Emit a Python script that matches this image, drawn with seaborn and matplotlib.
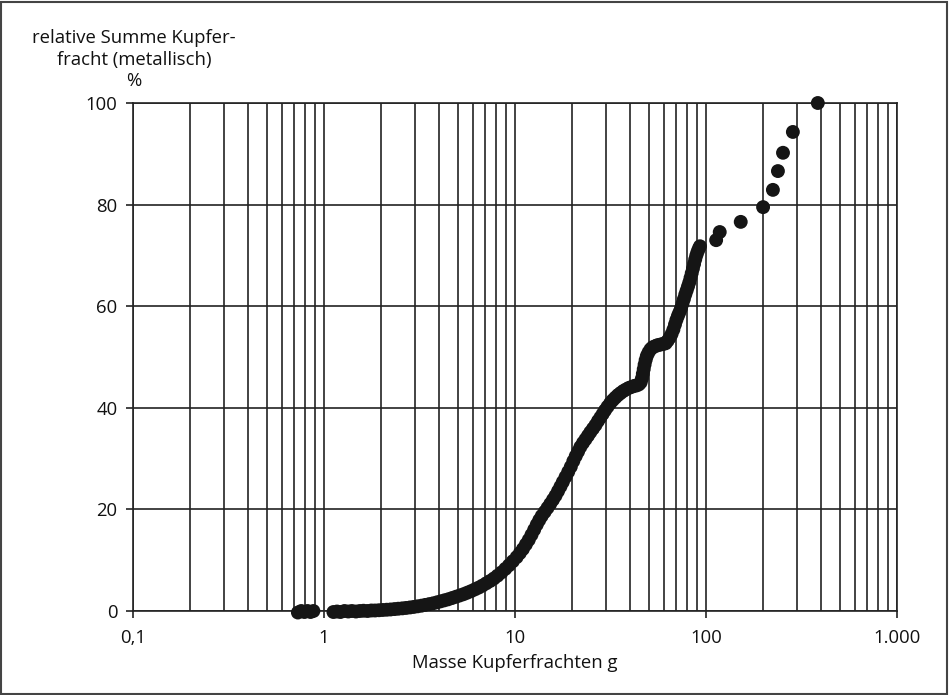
import matplotlib
matplotlib.use("Agg")
import matplotlib.pyplot as plt
import matplotlib.patches as mpatches
from matplotlib.ticker import FixedLocator, FixedFormatter, NullLocator
import numpy as np
import pandas as pd
import seaborn as sns

# Cumulative copper freight share vs. freight mass (g), sorted by mass
mass_g = [
    0.73, 0.76, 0.79, 0.82, 0.85, 0.88,
    1.12, 1.17, 1.22, 1.28, 1.34, 1.40, 1.47, 1.54, 1.61, 1.69, 1.77, 1.85,
    1.94, 2.03, 2.13, 2.23, 2.34, 2.45, 2.57, 2.69, 2.82, 2.95, 3.09, 3.24,
    3.39, 3.55, 3.72, 3.90, 4.08, 4.27, 4.47, 4.68, 4.90, 5.13, 5.37, 5.62,
    5.88, 6.16, 6.45, 6.75, 7.07, 7.40, 7.75, 8.10, 8.50, 8.90, 9.30, 9.75,
    10.2, 10.6, 11.0, 11.4, 11.8, 12.2, 12.6, 13.0, 13.4, 13.8, 14.3, 14.8,
    15.3, 15.8, 16.3, 16.8, 17.3, 17.8, 18.4, 19.0, 19.6, 20.2, 20.8, 21.4,
    22.0, 22.7, 23.4, 24.1, 24.8, 25.6, 26.4, 27.2, 28.0, 28.8, 29.6, 30.5,
    31.5, 32.5, 33.5, 34.6, 35.7, 36.9, 38.1, 39.4, 40.7, 42.0, 43.3, 44.5,
    45.5, 46.2, 46.7, 47.2, 47.7, 48.3, 49.0, 50.0, 51.2, 52.5, 54.0, 55.5,
    57.0, 58.5, 60.0, 61.5, 63.0, 64.5, 66.0, 67.5, 68.8, 70.0, 71.3, 72.6,
    74.0, 75.3, 76.6, 77.9, 79.2, 80.5, 81.8, 83.0, 84.2, 85.4, 86.6, 87.8,
    89.0, 90.3, 91.6, 93.0,
    113, 118, 152, 199, 224, 238, 253, 285, 385,
]
cum_share = [
    -0.3, 0.0, -0.2, 0.0, -0.2, 0.0,
    -0.2, -0.1, -0.2, 0.0, -0.1, 0.0, -0.1, 0.0, 0.05, 0.0, 0.1, 0.1,
    0.15, 0.2, 0.25, 0.3, 0.38, 0.45, 0.52, 0.60, 0.70, 0.80, 0.92, 1.05,
    1.20, 1.35, 1.50, 1.70, 1.90, 2.10, 2.30, 2.55, 2.80, 3.05, 3.30, 3.60,
    3.90, 4.25, 4.60, 5.00, 5.45, 5.90, 6.40, 6.95, 7.60, 8.30, 9.00, 9.80,
    10.6, 11.4, 12.2, 13.1, 14.0, 15.0, 16.0, 17.0, 17.9, 18.7, 19.5, 20.3,
    21.1, 21.9, 22.7, 23.6, 24.5, 25.4, 26.4, 27.4, 28.4, 29.5, 30.5, 31.4,
    32.3, 33.1, 33.8, 34.5, 35.2, 35.9, 36.6, 37.4, 38.1, 38.8, 39.5, 40.2,
    40.9, 41.5, 42.0, 42.5, 42.9, 43.3, 43.6, 43.9, 44.1, 44.3, 44.4, 44.6,
    45.0, 45.8, 46.7, 47.6, 48.5, 49.4, 50.2, 50.9, 51.5, 51.9, 52.1, 52.3,
    52.4, 52.5, 52.6, 52.7, 53.2, 53.8, 54.5, 55.4, 56.4, 57.3, 58.1, 58.8,
    59.6, 60.5, 61.4, 62.3, 63.1, 63.9, 64.7, 65.6, 66.5, 67.4, 68.3, 69.2,
    70.0, 70.7, 71.3, 71.8,
    73.0, 74.6, 76.6, 79.5, 82.9, 86.6, 90.2, 94.3, 100.0,
]

x_ticks = [0.1, 1, 10, 100, 1000]
x_tick_labels = ["0,1", "1", "10", "100", "1.000"]
y_ticks = [0, 20, 40, 60, 80, 100]

df = pd.DataFrame({"masse": mass_g, "anteil": cum_share})

sns.set_theme(style="white")
plt.rcParams["font.family"] = ["Open Sans", "DejaVu Sans"]

FS = 13.3
W, H = 949, 695
fig = plt.figure(figsize=(W / 100, H / 100), dpi=100)
ax = fig.add_axes([133 / W, 1 - 611 / H, (897 - 133) / W, (611 - 103) / H])

ax.set_xscale("log")
ax.set_xlim(0.1, 1000)
ax.set_ylim(0, 100)

# Dense log grid: vertical lines at every 1..9 × decade, horizontal every 20 %
grid_x = [m * 10.0 ** e for e in range(-1, 3) for m in range(1, 10)] + [1000]
for gx in grid_x:
    ax.axvline(gx, color="#222222", lw=1.2, zorder=1)
for gy in y_ticks:
    ax.axhline(gy, color="#222222", lw=1.2, zorder=1)

sns.scatterplot(data=df, x="masse", y="anteil", ax=ax, s=100, color="#151515",
                edgecolor="none", linewidth=0, zorder=3, clip_on=False, legend=False)

ax.xaxis.set_major_locator(FixedLocator(x_ticks))
ax.xaxis.set_major_formatter(FixedFormatter(x_tick_labels))
ax.xaxis.set_minor_locator(NullLocator())
ax.set_yticks(y_ticks)
ax.set_yticklabels([str(v) for v in y_ticks])
ax.tick_params(axis="both", which="major", direction="out", length=5, width=1.2,
               color="#222222", labelsize=FS, labelcolor="#111111")
ax.tick_params(axis="x", pad=8)
ax.tick_params(axis="y", pad=6)
ax.tick_params(bottom=True, left=True)

for sp in ax.spines.values():
    sp.set_color("#222222")
    sp.set_linewidth(1.2)

ax.set_xlabel("")
ax.set_ylabel("")

fig.text(515 / W, 1 - 663 / H, "Masse Kupferfrachten g", ha="center", va="center",
         fontsize=FS, color="#111111")
fig.text(134 / W, 1 - 29 / H, "relative Summe Kupfer-\nfracht (metallisch)\n%",
         ha="center", va="top", fontsize=FS, color="#111111", linespacing=1.25,
         multialignment="center")

# Thin frame around the whole figure
fig.patches.append(mpatches.Rectangle((1 / W, 1 / H), (W - 3) / W, (H - 3) / H,
                                      transform=fig.transFigure, fill=False,
                                      edgecolor="#444444", lw=1.5))

fig.savefig("out.png", dpi=100, facecolor="white")
